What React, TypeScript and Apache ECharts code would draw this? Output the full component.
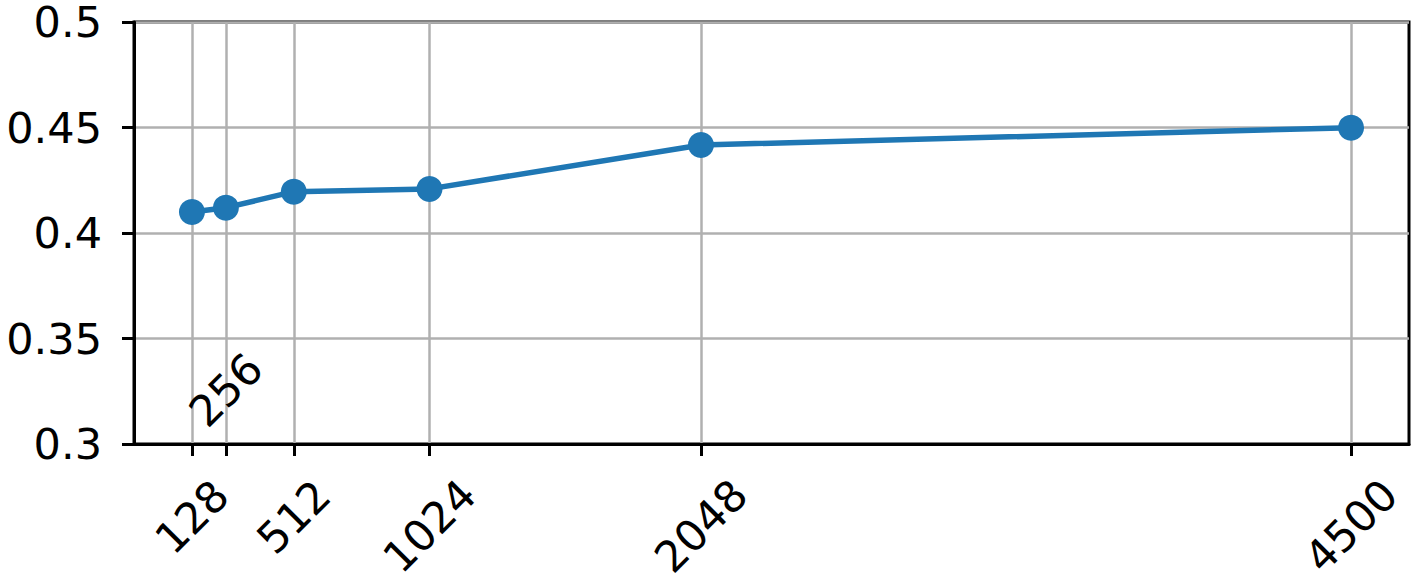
import React, { useEffect, useRef } from "react";
import * as echarts from "echarts";

const xValues = [128, 256, 512, 1024, 2048, 4500];
const yValues = [0.410, 0.412, 0.4196, 0.4209, 0.4417, 0.4499];
const shortLabels = [128, 512];
const longLabels = [1024, 2048, 4500];
const raisedLabels = [256];
const yTicks = { min: 0.3, max: 0.5, interval: 0.05 };

const X_MIN = -90.6;
const X_MAX = 4718.6;
const FONT = "DejaVu Sans";
const FS = 43;

function labelAxis(values: number[], margin: number, main: boolean) {
  return {
    type: "value",
    gridIndex: 0,
    position: "bottom",
    min: X_MIN,
    max: X_MAX,
    axisLine: main ? { show: true, onZero: false, lineStyle: { color: "#000", width: 3 } } : { show: false },
    axisTick: main
      ? { show: true, customValues: xValues, length: 12, inside: false, lineStyle: { color: "#000", width: 3 } }
      : { show: false },
    splitLine: main ? { show: true, lineStyle: { color: "#b0b0b0", width: 2.5 } } : { show: false },
    axisLabel: {
      show: true,
      customValues: values,
      rotate: 45,
      align: "center",
      verticalAlign: "middle",
      margin,
      fontFamily: FONT,
      fontSize: FS,
      lineHeight: 40,
      color: "#000",
      formatter: (v: number) => String(v),
    },
  };
}

export default function App() {
  const ref = useRef<HTMLDivElement>(null);
  useEffect(() => {
    if (!ref.current) return;
    const chart = echarts.init(ref.current, undefined, { renderer: "svg" });
    chart.setOption({
      animation: false,
      backgroundColor: "#fff",
      grid: {
        left: 134,
        right: 10,
        top: 22,
        bottom: 140,
        show: true,
        borderColor: "#000",
        borderWidth: 3,
        backgroundColor: "transparent",
      },
      xAxis: [
        labelAxis(shortLabels, 73, true),
        labelAxis(longLabels, 82, false),
        labelAxis(raisedLabels, -54, false),
      ],
      yAxis: {
        type: "value",
        min: yTicks.min,
        max: yTicks.max,
        interval: yTicks.interval,
        axisLine: { show: true, onZero: false, lineStyle: { color: "#000", width: 3 } },
        axisTick: { show: true, length: 12, lineStyle: { color: "#000", width: 3 } },
        splitLine: { show: true, lineStyle: { color: "#b0b0b0", width: 2.5 } },
        axisLabel: {
          margin: 32,
          fontFamily: FONT,
          fontSize: FS,
          lineHeight: 40,
          color: "#000",
          formatter: (v: number) => String(parseFloat(v.toFixed(2))),
        },
      },
      series: [
        {
          type: "line",
          xAxisIndex: 0,
          data: xValues.map((x, i) => [x, yValues[i]]),
          symbol: "circle",
          symbolSize: 26,
          lineStyle: { color: "#1f77b4", width: 5.5 },
          itemStyle: { color: "#1f77b4" },
          z: 10,
        },
      ],
    });
    return () => chart.dispose();
  }, []);
  return (
    <div
      ref={ref}
      style={{ position: "absolute", left: 0, top: 0, width: 1419, height: 584 }}
    />
  );
}
